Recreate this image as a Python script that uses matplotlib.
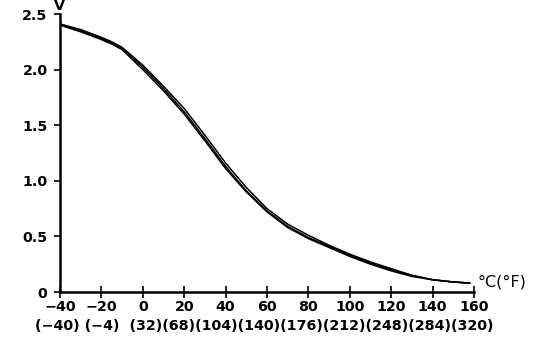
import matplotlib
matplotlib.use("Agg")
import matplotlib.pyplot as plt

plt.rcParams['font.family'] = ['DejaVu Sans']

temps_c = [-40, -30, -20, -15, -10, 0, 10, 20, 30, 40, 50, 60, 70, 80, 90, 100, 110, 120, 130, 140, 150, 158]
volts_mid = [2.41, 2.35, 2.28, 2.24, 2.19, 2.02, 1.83, 1.62, 1.38, 1.13, 0.91, 0.73, 0.59, 0.49, 0.41, 0.33, 0.26, 0.20, 0.15, 0.11, 0.09, 0.08]
volts_hi = [2.41, 2.36, 2.29, 2.25, 2.20, 2.04, 1.85, 1.65, 1.41, 1.16, 0.94, 0.75, 0.61, 0.51, 0.42, 0.34, 0.27, 0.21, 0.15, 0.11, 0.09, 0.08]
volts_lo = [2.40, 2.34, 2.27, 2.23, 2.18, 2.00, 1.81, 1.60, 1.36, 1.11, 0.90, 0.72, 0.58, 0.48, 0.40, 0.32, 0.25, 0.19, 0.14, 0.11, 0.09, 0.08]

xticks_c = [-40, -20, 0, 20, 40, 60, 80, 100, 120, 140, 160]
xlabels_c = ['−40', '−20', '0', '20', '40', '60', '80', '100', '120', '140', '160']
xlabels_f = ['(−40)', '(−4)', '(32)', '(68)', '(104)', '(140)', '(176)', '(212)', '(248)', '(284)', '(320)']
yticks = [0, 0.5, 1.0, 1.5, 2.0, 2.5]
ylabels = ['0', '0.5', '1.0', '1.5', '2.0', '2.5']

W, H = 560, 362
fig = plt.figure(figsize=(W/100, H/100), dpi=100)
ax = fig.add_axes([60/W, (H-292)/H, (474-60)/W, (292-14)/H])

for v in (volts_hi, volts_mid, volts_lo):
    ax.plot(temps_c, v, color='black', lw=1.1, solid_capstyle='round')

ax.set_xlim(-40, 160)
ax.set_ylim(0, 2.5)
for s in ('top', 'right'):
    ax.spines[s].set_visible(False)
for s in ('left', 'bottom'):
    ax.spines[s].set_linewidth(1.8)

fs = 10.3
ax.set_xticks(xticks_c)
ax.set_xticklabels(xlabels_c, fontsize=fs, fontweight='bold')
ax.set_yticks(yticks)
ax.set_yticklabels(ylabels, fontsize=fs, fontweight='bold')
ax.tick_params(axis='x', direction='inout', length=9, width=1.2, pad=1)
ax.tick_params(axis='y', direction='out', length=4, width=1.2, pad=5)

fig.text(35/W, 1-326/H, ' '.join([xlabels_f[0], xlabels_f[1]]) + '  ' + ''.join(xlabels_f[2:]),
         fontsize=fs, fontweight='bold', ha='left', va='center')

fig.text(59/W, 1-6/H, 'V', fontsize=fs, fontweight='bold', ha='center', va='center')
ax.text(1.008, 0.035, '°C(°F)', transform=ax.transAxes, fontsize=11.5, ha='left', va='center')

fig.savefig('out.png', dpi=100, facecolor='white')
